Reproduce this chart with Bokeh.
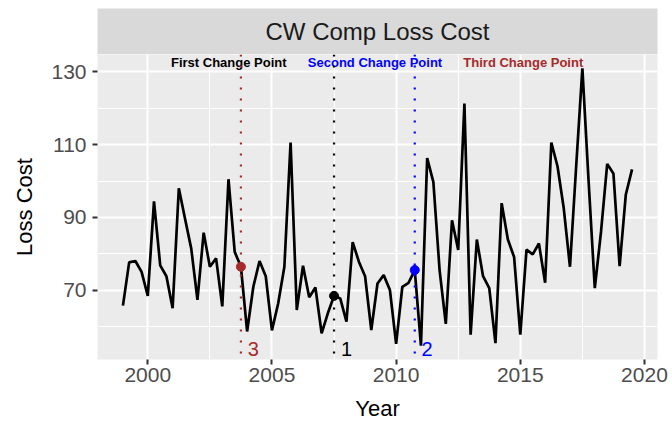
from bokeh.plotting import figure
from bokeh.models import Span, FixedTicker, Range1d
from bokeh.layouts import column
from bokeh.core.properties import value
from bokeh.embed import file_html
from bokeh.resources import INLINE

# ---- data ----
loss_cost = [
    65.7, 77.6, 78.0, 75.0,   # 1999
    68.4, 94.4, 76.8, 73.8,   # 2000
    65.0, 98.0, 89.6, 81.4,   # 2001
    67.3, 85.8, 76.4, 78.7,   # 2002
    65.5, 100.5, 80.5, 76.4,  # 2003
    58.6, 70.9, 78.0, 73.8,   # 2004
    58.9, 66.3, 76.4, 110.6,  # 2005
    64.5, 76.7, 68.0, 70.7,   # 2006
    58.1, 63.6, 68.4, 67.7,   # 2007
    61.3, 83.2, 77.8, 73.8,   # 2008
    59.0, 71.8, 74.1, 70.0,   # 2009
    55.2, 70.9, 72.0, 75.5,   # 2010
    54.7, 106.3, 99.7, 75.5,  # 2011
    60.7, 89.2, 81.0, 121.3,  # 2012
    57.7, 83.9, 73.8, 70.5,   # 2013
    55.4, 93.9, 83.9, 79.1,   # 2014
    57.7, 81.1, 79.8, 82.8,   # 2015
    72.0, 110.6, 104.0, 92.5, # 2016
    76.4, 104.0, 131.0, 100.0,# 2017
    70.5, 86.0, 104.7, 102.1, # 2018
    76.6, 96.3, 103.2,        # 2019
]
start_year = 1999
years = [start_year + i / 4 for i in range(len(loss_cost))]

cp_years = [2007.5, 2010.75, 2003.75]
cp_labels = ["1", "2", "3"]
cp_colors = ["#000000", "#0000FF", "#A52A2A"]

note_texts = ["First Change Point", "Second Change Point", "Third Change Point"]
note_colors = ["#000000", "#0000FF", "#A52A2A"]
note_x = [2003.26, 2009.15, 2015.12]

x_ticks = [2000, 2005, 2010, 2015, 2020]
x_minor = [1997.5, 2002.5, 2007.5, 2012.5, 2017.5]
y_ticks = [70, 90, 110, 130]
y_minor = [60, 80, 100, 120]

strip_title = "CW Comp Loss Cost"
x_label = "Year"
y_label = "Loss Cost"

FONT = "Liberation Sans"

# ---- ranges (ggplot-like 5% expansion) ----
xmin, xmax = min(years), max(years)
ymin, ymax = min(loss_cost), max(loss_cost)
xpad = 0.05 * (xmax - xmin)
ypad = 0.05 * (ymax - ymin)
xr = Range1d(xmin - xpad, xmax + xpad)
yr = Range1d(ymin - ypad, ymax + ypad)

# ---- strip ----
s = figure(width=672, height=54, x_range=xr, y_range=Range1d(0, 1),
           x_axis_type=None, y_axis_type=None, title=None,
           output_backend="svg", toolbar_location=None,
           min_border_left=97, min_border_right=15,
           min_border_top=8, min_border_bottom=0)
s.background_fill_color = "#D9D9D9"
s.border_fill_color = "white"
s.outline_line_color = None
s.text(x=[(xr.start + xr.end) / 2], y=[0.5], text=[strip_title],
       text_font=value(FONT), text_font_size="24px", text_color="#1A1A1A",
       text_align="center", text_baseline="middle")

# ---- main panel ----
p = figure(width=672, height=369, x_range=xr, y_range=yr, title=None,
           output_backend="svg", toolbar_location=None,
           min_border_left=97, min_border_right=15,
           min_border_top=0, min_border_bottom=62)
p.background_fill_color = "#EBEBEB"
p.border_fill_color = "white"
p.outline_line_color = None

p.xaxis.ticker = FixedTicker(ticks=x_ticks, minor_ticks=x_minor)
p.yaxis.ticker = FixedTicker(ticks=y_ticks, minor_ticks=y_minor)
p.xgrid.ticker = FixedTicker(ticks=x_ticks, minor_ticks=x_minor)
p.ygrid.ticker = FixedTicker(ticks=y_ticks, minor_ticks=y_minor)
p.grid.grid_line_color = "white"
p.grid.grid_line_width = 2
p.grid.minor_grid_line_color = "white"
p.grid.minor_grid_line_width = 1

for ax in p.axis:
    ax.axis_line_color = None
    ax.major_tick_line_color = "#333333"
    ax.major_tick_line_width = 2
    ax.major_tick_out = 5
    ax.major_tick_in = 0
    ax.minor_tick_line_color = None
    ax.major_label_text_font = FONT
    ax.major_label_text_font_size = "21px"
    ax.major_label_text_color = "#4D4D4D"
    ax.axis_label_text_font = FONT
    ax.axis_label_text_font_size = "22px"
    ax.axis_label_text_font_style = "normal"
    ax.axis_label_text_color = "#000000"

p.xaxis.axis_label = x_label
p.yaxis.axis_label = y_label
p.xaxis.major_label_standoff = 3
p.xaxis.axis_label_standoff = 11
p.yaxis.major_label_standoff = 6
p.yaxis.axis_label_standoff = 11

p.line(years, loss_cost, line_color="black", line_width=2.7)

for yr_cp, col in zip(cp_years, cp_colors):
    p.add_layout(Span(location=yr_cp, dimension="height", line_color=col,
                      line_dash="2 9", line_width=2.2))

cp_values = [loss_cost[years.index(c)] for c in cp_years]
p.scatter(cp_years, cp_values, size=9, color=cp_colors)

label_y = ymin - 1
p.text(x=[c + 0.5 for c in cp_years], y=[label_y] * len(cp_years), text=cp_labels,
       text_color=cp_colors, text_font=value(FONT), text_font_size="20px",
       text_align="center", text_baseline="middle")

note_y = ymax + 1.5
p.text(x=note_x, y=[note_y] * len(note_x), text=note_texts, text_color=note_colors,
       text_font=value(FONT), text_font_size="13px", text_font_style="bold",
       text_align="center", text_baseline="middle")

layout = column(s, p)
open("out.html", "w").write(file_html(layout, INLINE))
